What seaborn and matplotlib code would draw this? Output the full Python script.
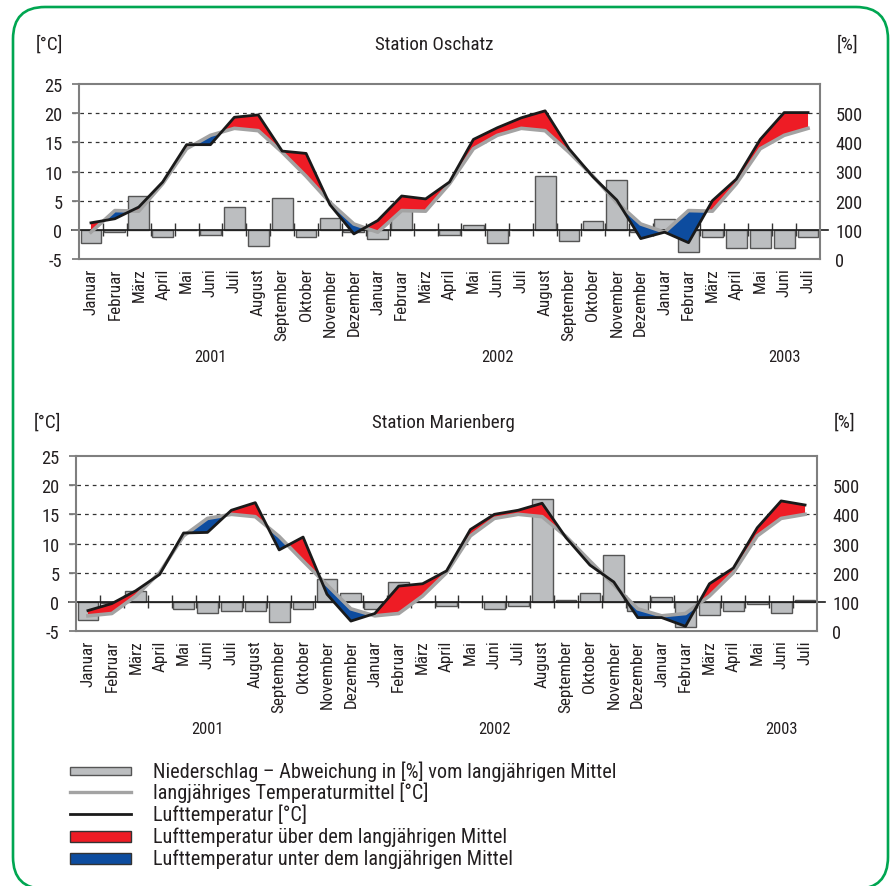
import numpy as np
import pandas as pd
import matplotlib
matplotlib.use("Agg")
import matplotlib.pyplot as plt
import seaborn as sns
from matplotlib import font_manager as fm
from matplotlib.font_manager import FontProperties
from matplotlib.patches import FancyBboxPatch, Rectangle
from matplotlib.lines import Line2D
from matplotlib.transforms import IdentityTransform, blended_transform_factory

# ---------------------------------------------------------------- data
months = ["Januar", "Februar", "März", "April", "Mai", "Juni", "Juli",
          "August", "September", "Oktober", "November", "Dezember"]
years = ["2001", "2002", "2003"]
year_label_month = [5, 17, 29]          # month index under which each year is written
n_months = 31                           # Januar 2001 ... Juli 2003

# Station Oschatz: monthly air temperature [°C], Jan 2001 - Jul 2003
oschatz_temp = [1.2, 1.9, 3.9, 8.2, 14.6, 14.6, 19.3, 19.7, 13.5, 13.1, 4.3, -0.7,
                1.6, 5.8, 5.3, 8.2, 15.5, 17.5, 19.2, 20.4, 13.9, 9.1, 5.1, -1.5,
                -0.4, -2.2, 5.0, 8.7, 15.5, 20.1, 20.1]
# long-term monthly mean temperature [°C], Jan - Dez
oschatz_mean = [-0.4, 3.3, 3.2, 7.9, 13.9, 16.2, 17.4, 17.0, 13.3, 9.2, 4.7, 1.0]
# precipitation: deviation from the long-term mean [%]
oschatz_precip_dev = [-46, -8, 116, -25, 0, -16, 78, -54, 109, -25, 40, -8,
                      -33, 72, 0, -16, 15, -46, 0, 186, -39, 30, 170, -6,
                      38, -77, -23, -62, -62, -62, -23]

# Station Marienberg
marienberg_temp = [-1.5, -0.3, 1.9, 4.7, 11.8, 11.9, 15.7, 17.0, 8.9, 11.1, 1.3, -3.3,
                   -2.0, 2.7, 3.1, 5.3, 12.4, 15.0, 15.7, 16.9, 11.0, 6.3, 3.4, -2.7,
                   -2.7, -4.2, 3.1, 5.8, 12.7, 17.3, 16.6]
marienberg_mean = [-2.4, -2.0, 1.0, 5.0, 11.3, 14.3, 15.0, 14.6, 11.2, 7.0, 2.9, -1.2]
marienberg_precip_dev = [-63, -5, 38, 0, -23, -38, -31, -31, -69, -23, 78, 31,
                         -25, 69, 0, -14, 0, -23, -14, 352, 6, 31, 162, -31,
                         15, -86, -46, -31, -6, -38, 8]

legend_labels = [
    "Niederschlag – Abweichung in [%] vom langjährigen Mittel",
    "langjähriges Temperaturmittel [°C]",
    "Lufttemperatur [°C]",
    "Lufttemperatur über dem langjährigen Mittel",
    "Lufttemperatur unter dem langjährigen Mittel",
]

# ---------------------------------------------------------------- style
RED = "#ee1c25"
BLUE = "#0d4c9f"
BAR_FACE = "#bcbec0"
BAR_EDGE = "#555555"
MEAN_GREY = "#a3a3a3"
TEMP_BLACK = "#1a1a1a"
SPINE_GREY = "#7f7f7f"
TEXT = "#231f20"
FRAME_GREEN = "#00a651"


def pick_font():
    """Prefer a narrow sans face; fall back to Roboto."""
    entries = fm.fontManager.ttflist
    names = {f.name for f in entries}
    for fam in ["Liberation Sans Narrow", "Roboto Condensed", "Open Sans Condensed",
                "Noto Sans Condensed", "DejaVu Sans Condensed", "Arial Narrow"]:
        if fam in names:
            return fam, "normal"
    for fam in ["DejaVu Sans", "Noto Sans", "Open Sans", "Roboto", "Liberation Sans"]:
        for f in entries:
            if f.name == fam and f.stretch in ("condensed", "semi-condensed"):
                return fam, f.stretch
    for f in entries:
        if ("Narrow" in f.name or "Condensed" in f.name) and "Mono" not in f.name \
                and "Serif" not in f.name:
            return f.name, "normal"
    return "Roboto", "normal"


FONT, STRETCH = pick_font()
plt.rcParams["font.family"] = [FONT, "DejaVu Sans"]
plt.rcParams["font.stretch"] = STRETCH
plt.rcParams["axes.unicode_minus"] = False
plt.rcParams["text.color"] = TEXT
plt.rcParams["xtick.color"] = TEXT
plt.rcParams["ytick.color"] = TEXT

W, H = 893, 887
fig = plt.figure(figsize=(W / 100, H / 100), dpi=100)
fig.patch.set_facecolor("white")
renderer = fig.canvas.get_renderer()


def fit_size(s, target_px, cap=16):
    fp = FontProperties(family=[FONT, "DejaVu Sans"], stretch=STRETCH, size=10)
    w, _, _ = renderer.get_text_width_height_descent(s, fp, ismath=False)
    return min(cap, 10 * target_px / w)


FS_TITLE = fit_size("Station Oschatz", 118)
FS_TICK = FS_TITLE * 0.97
FS_MONTH = fit_size("September", 72)
FS_YEAR = fit_size("2001", 32)
FS_LEGEND = fit_size(legend_labels[0], 461)


def px_rect(left, top, right, bottom):
    return [left / W, 1 - bottom / H, (right - left) / W, (bottom - top) / H]


def fig_text(x, y, s, **kw):
    fig.text(x / W, 1 - y / H, s, **kw)


def draw_station(rect, temp, mean_by_month, precip_dev):
    ax = fig.add_axes(rect)
    ax2 = ax.twinx()
    ax.set_zorder(2)
    ax.patch.set_visible(False)

    x = np.arange(n_months)
    temp = np.asarray(temp, dtype=float)
    mean_line = np.array([mean_by_month[i % 12] for i in x], dtype=float)

    # precipitation bars on the % axis, rising from the 100 % line
    df = pd.DataFrame({"monat": x, "abweichung": precip_dev})
    sns.barplot(data=df, x="monat", y="abweichung", ax=ax2, color=BAR_FACE,
                saturation=1, width=0.87, errorbar=None, bottom=100,
                edgecolor=BAR_EDGE, linewidth=1.0, zorder=2)

    # dotted grid and month separators on the % axis (below the bars)
    for v in [200, 300, 400, 500]:
        ax2.axhline(v, xmin=-0.009, xmax=1, color="#333333", lw=0.9,
                    ls=(0, (3, 3.2)), zorder=0.5, clip_on=False)
    ax2.vlines(np.arange(0.5, n_months - 0.5, 1), 78, 122, color="#333333",
               lw=1.0, zorder=1)
    ax2.axhline(100, xmin=-0.009, xmax=1.011, color=TEMP_BLACK, lw=1.2,
                zorder=3, clip_on=False)

    # temperature above / below the long-term mean
    ax.fill_between(x, temp, mean_line, where=temp >= mean_line,
                    interpolate=True, color=RED, lw=0, zorder=2)
    ax.fill_between(x, temp, mean_line, where=temp <= mean_line,
                    interpolate=True, color=BLUE, lw=0, zorder=2)
    sns.lineplot(x=x, y=mean_line, ax=ax, color=MEAN_GREY, lw=2.6, zorder=3)
    sns.lineplot(x=x, y=temp, ax=ax, color=TEMP_BLACK, lw=2.0, zorder=4)

    # axes
    ax.set_xlim(-0.5, n_months - 0.5)
    ax.set_ylim(-5, 25)
    ax2.set_ylim(0, 600)
    ax.set_yticks(range(-5, 30, 5))
    ax2.set_yticks(range(0, 600, 100))
    ax2.set_yticks([0, 100], minor=True)
    ax.set_xticks(x)
    ax.set_xticklabels([months[i % 12] for i in x], rotation=90)
    ax.set_xlabel("")
    ax.set_ylabel("")
    ax2.set_xlabel("")
    ax2.set_ylabel("")

    ax.tick_params(axis="x", length=0, pad=6, labelsize=FS_MONTH)
    ax.tick_params(axis="y", length=5, width=1.3, color=SPINE_GREY, pad=7,
                   labelsize=FS_TICK)
    ax2.tick_params(axis="y", which="major", length=0, pad=11, labelsize=FS_TICK)
    ax2.tick_params(axis="y", which="minor", length=6.5, width=1.3,
                    color=SPINE_GREY)

    for s in ax2.spines.values():
        s.set_visible(False)
    for s in ax.spines.values():
        s.set_color(SPINE_GREY)
        s.set_linewidth(1.5)
    ax.grid(False)
    ax2.grid(False)

    trans = blended_transform_factory(ax.transData, ax.transAxes)
    for yr, mi in zip(years, year_label_month):
        ax.text(mi, -0.56, yr, transform=trans, ha="center", va="center",
                fontsize=FS_YEAR)
    return ax


# ---------------------------------------------------------------- panels
draw_station(px_rect(79, 85, 820, 260), oschatz_temp, oschatz_mean,
             oschatz_precip_dev)
fig_text(434, 45, "Station Oschatz", ha="center", va="center", fontsize=FS_TITLE)
fig_text(49, 45, "[°C]", ha="center", va="center", fontsize=FS_TITLE)
fig_text(848, 45, "[%]", ha="center", va="center", fontsize=FS_TITLE)

draw_station(px_rect(76, 457, 817, 632), marienberg_temp, marienberg_mean,
             marienberg_precip_dev)
fig_text(443, 423, "Station Marienberg", ha="center", va="center",
         fontsize=FS_TITLE)
fig_text(47, 423, "[°C]", ha="center", va="center", fontsize=FS_TITLE)
fig_text(845, 423, "[%]", ha="center", va="center", fontsize=FS_TITLE)

# ---------------------------------------------------------------- legend
legend_kinds = ["bar", "mean", "temp", "above", "below"]
row_y = [772, 793, 815, 837, 859]
ident = IdentityTransform()
for kind, label, y in zip(legend_kinds, legend_labels, row_y):
    yd = H - y
    if kind == "bar":
        fig.add_artist(Rectangle((70, yd - 4), 61, 8, facecolor=BAR_FACE,
                                 edgecolor=BAR_EDGE, lw=1.0, transform=ident))
    elif kind == "mean":
        fig.add_artist(Line2D([70, 131], [yd, yd], color=MEAN_GREY, lw=2.4,
                              transform=ident))
    elif kind == "temp":
        fig.add_artist(Line2D([70, 131], [yd, yd], color=TEMP_BLACK, lw=2.0,
                              transform=ident))
    else:
        fig.add_artist(Rectangle((70, yd - 5.5), 61, 11,
                                 facecolor=RED if kind == "above" else BLUE,
                                 edgecolor="#333333", lw=1.0, transform=ident))
    fig_text(153, y, label, ha="left", va="center", fontsize=FS_LEGEND)

# ---------------------------------------------------------------- frame
frame = FancyBboxPatch((13, -3), 875, H - 8 + 3,
                       boxstyle="round,pad=0,rounding_size=32",
                       facecolor="none", edgecolor=FRAME_GREEN, lw=1.9,
                       transform=ident)
fig.add_artist(frame)

fig.savefig("out.png", dpi=100, facecolor="white")
